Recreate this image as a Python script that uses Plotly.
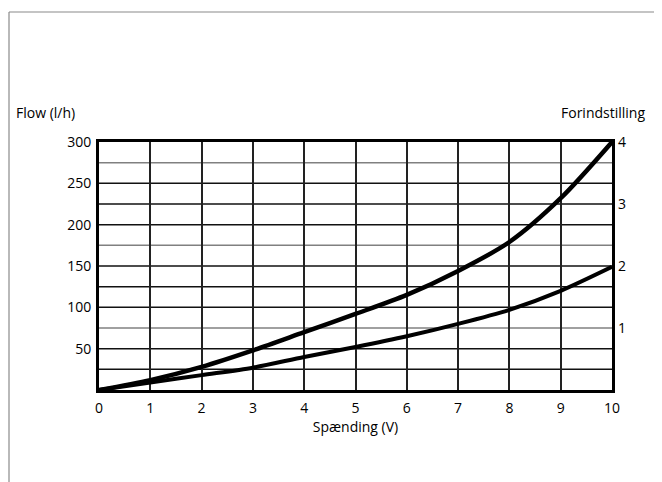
import plotly.graph_objects as go

# Data
voltage = [0, 1, 2, 3, 4, 5, 6, 7, 8, 9, 10]
flow_upper = [0, 12, 28, 48, 70, 92, 115, 144, 179, 232, 300]
flow_lower = [0, 9, 18, 27, 40, 52, 65, 80, 97, 120, 149]

left_ticks = [50, 100, 150, 200, 250, 300]
right_ticks = [1, 2, 3, 4]
x_ticks = [0, 1, 2, 3, 4, 5, 6, 7, 8, 9, 10]
black_grid = [25, 50, 100, 125, 150, 200, 225, 250]
gray_grid = [75, 175, 275]

FONT = "Open Sans"

fig = go.Figure()
fig.add_trace(go.Scatter(x=voltage, y=flow_upper, mode="lines",
                         line=dict(color="black", width=4.5, shape="spline", smoothing=0.8),
                         showlegend=False, hoverinfo="skip"))
fig.add_trace(go.Scatter(x=voltage, y=flow_lower, mode="lines",
                         line=dict(color="black", width=4, shape="spline", smoothing=0.8),
                         showlegend=False, hoverinfo="skip"))
# invisible trace for right axis
fig.add_trace(go.Scatter(x=[0, 10], y=[0, 4], yaxis="y2", mode="lines",
                         line=dict(width=0), showlegend=False, hoverinfo="skip"))

shapes = []
for v in black_grid:
    shapes.append(dict(type="line", xref="x", yref="y", x0=0, x1=10, y0=v, y1=v,
                       line=dict(color="#111", width=1.5), layer="below"))
for v in gray_grid:
    shapes.append(dict(type="line", xref="x", yref="y", x0=0, x1=10, y0=v, y1=v,
                       line=dict(color="#808080", width=1.5), layer="below"))
# outer frame (top and left gray lines)
shapes.append(dict(type="line", xref="paper", yref="paper",
                   x0=(9 - 99) / 513, x1=1.2, y0=(390 - 12) / 248, y1=(390 - 12) / 248,
                   line=dict(color="#8a8a8a", width=1.2)))
shapes.append(dict(type="line", xref="paper", yref="paper",
                   x0=(9 - 99) / 513, x1=(9 - 99) / 513, y0=(390 - 12) / 248, y1=-0.5,
                   line=dict(color="#8a8a8a", width=1.2)))

fig.update_layout(
    width=654, height=474,
    margin=dict(l=91, r=50, t=134, b=92),
    paper_bgcolor="white", plot_bgcolor="white",
    font=dict(family=FONT, size=14, color="black"),
    shapes=shapes,
    xaxis=dict(range=[0, 10], tickvals=x_ticks, ticktext=[str(t) for t in x_ticks],
               showgrid=True, gridcolor="#222", gridwidth=1.5,
               showline=True, linecolor="black", linewidth=3, mirror=True,
               zeroline=False, ticks="", ticklabelstandoff=3,
               title=dict(text="Spænding (V)", font=dict(size=14), standoff=4)),
    yaxis=dict(range=[0, 300], tickvals=left_ticks, showgrid=False,
               showline=True, linecolor="black", linewidth=3, mirror=True,
               zeroline=False, ticks="", ticklabelstandoff=2),
    yaxis2=dict(range=[0, 4], tickvals=right_ticks, overlaying="y", side="right",
                showgrid=False, showline=False, zeroline=False, ticks="",
                ticklabelstandoff=5),
    annotations=[
        dict(text="Flow (l/h)", xref="paper", yref="paper", x=(14 - 99) / 513,
             y=(390 - 112) / 248, xanchor="left", yanchor="middle", showarrow=False,
             font=dict(size=14)),
        dict(text="Forindstilling", xref="paper", yref="paper", x=(647 - 99) / 513,
             y=(390 - 112) / 248, xanchor="right", yanchor="middle", showarrow=False,
             font=dict(size=14)),
    ],
)

fig.write_html("out.html")
